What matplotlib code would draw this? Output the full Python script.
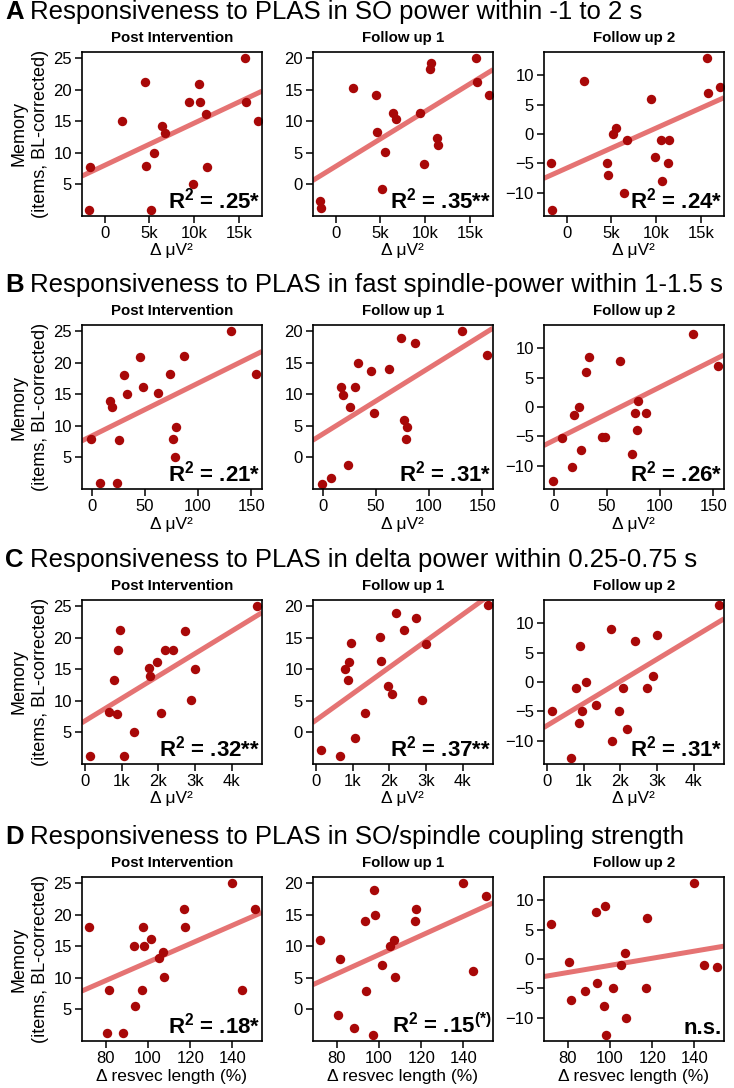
import numpy as np
import matplotlib.pyplot as plt

plt.rcParams['font.family'] = ['Liberation Sans', 'DejaVu Sans']
plt.rcParams['mathtext.fontset'] = 'custom'
plt.rcParams['mathtext.rm'] = 'Liberation Sans:bold'
plt.rcParams['mathtext.bf'] = 'Liberation Sans:bold'
plt.rcParams['mathtext.default'] = 'rm'

# ---- data (x shared by the three panels of a row) ----
# A: SO power (x in k uV^2)
so_x = [-1.8, -1.6, 1.9, 4.5, 4.6, 5.2, 5.5, 6.4, 6.7, 9.4, 9.9, 10.5, 10.7, 11.3, 11.5, 15.7, 15.8, 17.1]
so_post = [1.0, 7.7, 15.1, 21.2, 8.0, 1.0, 10.0, 14.2, 13.1, 18.1, 5.0, 20.9, 18.1, 16.1, 7.7, 25.0, 18.1, 15.1]
so_fu1 = [-2.7, -3.8, 15.3, 14.2, 8.3, -0.7, 5.2, 11.4, 10.3, 11.3, 3.2, 18.3, 19.3, 7.3, 6.2, 20.0, 16.2, 14.2]
so_fu2 = [-5, -13, 9, -5, -7, 0, 1.1, -10, -1, 6, -4, -1, -8, -5, -1, 13, 7, 8]

# B: fast spindle power (x in uV^2)
sp_x = [-1, 8, 17, 19, 24, 26, 30, 33, 45, 48, 62, 74, 76, 78, 79, 87, 131, 154]
sp_post = [8.0, 1.0, 14.0, 13.0, 1.0, 7.8, 18.0, 15.1, 21.0, 16.1, 15.2, 18.2, 8.0, 5.0, 9.9, 21.1, 25.0, 18.2]
sp_fu1 = [-4.2, -3.2, 11.2, 9.9, -1.2, 8.0, 11.1, 15.0, 13.7, 7.0, 14.1, 19.0, 6.0, 2.9, 4.9, 18.1, 20.0, 16.2]
sp_fu2 = [-12.6, -5.3, -10.2, -1.3, 0.0, -7.3, 6.0, 8.6, -5.2, -5.2, 7.8, -8.0, -1.1, -4.0, 1.0, -1.0, 12.5, 7.0]

# C: delta power (x in k uV^2)
de_x = [0.12, 0.65, 0.8, 0.86, 0.89, 0.96, 1.06, 1.33, 1.75, 1.76, 1.95, 2.06, 2.18, 2.39, 2.73, 2.9, 2.99, 4.69]
de_post = [1.2, 8.3, 13.3, 8.0, 18.1, 21.2, 1.3, 5.1, 15.2, 14.0, 16.1, 8.1, 18.1, 18.1, 21.1, 10.2, 15.1, 25.0]
de_fu1 = [-2.8, -3.8, 10.1, 8.3, 11.1, 14.2, -0.8, 3.1, 15.1, 11.3, 7.3, 6.1, 19.0, 16.2, 18.1, 5.2, 14.1, 20.2]
de_fu2 = [-5, -13, -1, -7, 6.1, -5, 0, -4, 9, -10, -5, -1, -8, 7, -1, 1, 8.1, 13.1]

# D: SO/spindle coupling strength (x in %)
co_x = [72, 80.5, 81.5, 88, 93.5, 94, 97, 97.5, 98.3, 101.5, 105, 107.2, 107.7, 117, 117.6, 140, 144.5, 150.5]
co_post = [18.1, 1.2, 8.1, 1.2, 15.1, 5.5, 8.1, 18.1, 15.1, 16.1, 13.1, 14.1, 10.2, 21.0, 18.1, 25.0, 8.1, 21.0]
co_fu1 = [11.0, -0.9, 8.0, -3.0, 14.0, 3.0, -4.0, 19.0, 15.0, 7.0, 10.0, 11.0, 5.1, 14.0, 16.0, 20.0, 6.1, 18.0]
co_fu2 = [6.0, -0.5, -7.0, -5.5, 8.0, -4.1, -8.1, 9.0, -13.0, -5.0, -1.1, 1.0, -10.0, -5.0, 7.0, 13.0, -1.1, -1.4]

# regression lines: (intercept, slope)
so_fits = [(8.04, 0.668), (2.87, 0.871), (-5.82, 0.683)]
sp_fits = [(8.4, 0.0838), (3.7, 0.105), (-5.73, 0.0914)]
de_fits = [(6.86, 3.55), (1.97, 4.18), (-7.42, 3.77)]
co_fits = [(-2.1, 0.146), (-6.51, 0.152), (-7.17, 0.0608)]

so_r2 = [r'R$^2$ = .25*', r'R$^2$ = .35**', r'R$^2$ = .24*']
sp_r2 = [r'R$^2$ = .21*', r'R$^2$ = .31*', r'R$^2$ = .26*']
de_r2 = [r'R$^2$ = .32**', r'R$^2$ = .37**', r'R$^2$ = .31*']
co_r2 = [r'R$^2$ = .18*', r'R$^2$ = .15$^{(*)}$', 'n.s.']

row_letters = ['A', 'B', 'C', 'D']
row_titles = ['Responsiveness to PLAS in SO power within -1 to 2 s',
              'Responsiveness to PLAS in fast spindle-power within 1-1.5 s',
              'Responsiveness to PLAS in delta power within 0.25-0.75 s',
              'Responsiveness to PLAS in SO/spindle coupling strength']
panel_titles = ['Post Intervention', 'Follow up 1', 'Follow up 2']

rows = [
    dict(x=so_x, ys=[so_post, so_fu1, so_fu2], fits=so_fits, r2=so_r2,
         xlim=(-2.6, 17.6), xticks=[0, 5, 10, 15], xtl=['0', '5k', '10k', '15k'], xlabel='Δ μV²'),
    dict(x=sp_x, ys=[sp_post, sp_fu1, sp_fu2], fits=sp_fits, r2=sp_r2,
         xlim=(-9.5, 160), xticks=[0, 50, 100, 150], xtl=['0', '50', '100', '150'], xlabel='Δ μV²'),
    dict(x=de_x, ys=[de_post, de_fu1, de_fu2], fits=de_fits, r2=de_r2,
         xlim=(-0.1, 4.83), xticks=[0, 1, 2, 3, 4], xtl=['0', '1k', '2k', '3k', '4k'], xlabel='Δ μV²'),
    dict(x=co_x, ys=[co_post, co_fu1, co_fu2], fits=co_fits, r2=co_r2,
         xlim=(68.5, 154), xticks=[80, 100, 120, 140], xtl=['80', '100', '120', '140'],
         xlabel='Δ resvec length (%)'),
]
ylims = [(0, 26), (-5, 21), (-14, 14)]
yticks = [[5, 10, 15, 20, 25], [0, 5, 10, 15, 20], [-10, -5, 0, 5, 10]]

FW, FH = 734, 1088
fig = plt.figure(figsize=(FW / 100, FH / 100), dpi=100)

lefts = [81.5, 312.5, 543.5]
tops = [52, 325, 600, 877]
W, H = 180.5, 164

for r, row in enumerate(rows):
    top = tops[r]
    fig.text(5 / FW, 1 - (top - 40) / FH, row_letters[r], fontsize=18.5,
             fontweight='bold', va='center', ha='left')
    fig.text(30 / FW, 1 - (top - 40) / FH, row_titles[r], fontsize=18.5,
             va='center', ha='left')
    for c in range(3):
        ax = fig.add_axes([lefts[c] / FW, 1 - (top + H) / FH, W / FW, H / FH])
        x = np.array(row['x'])
        a, b = row['fits'][c]
        xl = np.array(row['xlim'])
        ax.plot(xl, a + b * xl, color='#E57373', lw=3.6, zorder=1, solid_capstyle='butt')
        ax.scatter(x, row['ys'][c], s=46, color='#A80808', zorder=2, linewidths=0)
        ax.set_xlim(*row['xlim'])
        ax.set_ylim(*ylims[c])
        ax.set_yticks(yticks[c])
        ax.set_xticks(row['xticks'])
        ax.set_xticklabels(row['xtl'])
        ax.tick_params(direction='out', length=5, width=1.1, labelsize=12, pad=2)
        for s in ax.spines.values():
            s.set_linewidth(1.2)
        ax.set_xlabel(row['xlabel'], fontsize=12.5, labelpad=2)
        ax.text(0.5, 1 + 14 / H, panel_titles[c], transform=ax.transAxes,
                ha='center', va='center', fontsize=10.8, fontweight='bold')
        ax.text(0.99, 0.015, row['r2'][c], transform=ax.transAxes, ha='right',
                va='bottom', fontsize=16, fontweight='bold')
        if c == 0:
            ax.set_ylabel('Memory\n(items, BL-corrected)', fontsize=13,
                          linespacing=1.35, labelpad=3)

fig.savefig('out.png', dpi=100)
